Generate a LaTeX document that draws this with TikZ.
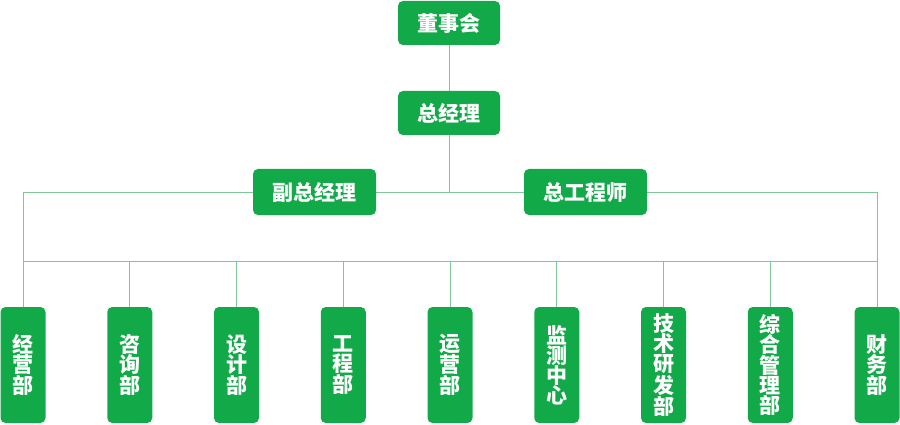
\documentclass[tikz,border=0pt]{standalone}
\usepackage{fontspec}
\newfontfamily\cjk{Noto Sans CJK SC}
\usetikzlibrary{positioning}
\definecolor{boxgreen}{RGB}{18,169,72}
\definecolor{linkgreen}{RGB}{125,200,152}

\begin{document}
\begin{tikzpicture}[x=1pt,y=-1pt,
  headbox/.style={
    rectangle,
    rounded corners=5pt,
    fill=boxgreen,
    text=white,
    font=\cjk\bfseries\fontsize{21}{21}\selectfont,
    inner sep=0pt},
  deptbox/.style={
    rectangle,
    rounded corners=5pt,
    fill=boxgreen,
    text=white,
    align=center,
    font=\cjk\bfseries\fontsize{21}{20}\selectfont,
    minimum width=45pt,
    minimum height=116pt,
    inner sep=0pt},
  link/.style={draw=linkgreen, line width=0.9pt}]
  \useasboundingbox (0,0) rectangle (900,425);
  % draw board and general manager
  \node[headbox, minimum width=102pt, minimum height=44pt] (board) at (449,23) {董事会};
  \node[headbox, minimum width=102pt, minimum height=44pt] (gm) at (449,113) {总经理};
  \draw[link] (board.south) -- (gm.north);
  % corners of the frame
  \coordinate (tl) at (23,192);
  \coordinate (tr) at (877,192);
  \coordinate (bl) at (23,261);
  \coordinate (br) at (877,261);
  \draw[link] (gm.south) -- (gm.south |- tl);
  \draw[link] (tl) -- (tr);
  \draw[link] (tl) -- (bl);
  \draw[link] (tr) -- (br);
  \draw[link] (bl) -- (br);
  % draw deputies on top of the frame
  \node[headbox, minimum width=123pt, minimum height=46pt] (deputy) at (314.5,192) {副总经理};
  \node[headbox, minimum width=123pt, minimum height=46pt] (chief) at (585.5,192) {总工程师};
  % draw departments
  \foreach \dept [count=\i from 0] in {{经\\营\\部},{咨\\询\\部},{设\\计\\部},{工\\程\\部},{运\\营\\部},
      {监\\测\\中\\心},{技\\术\\研\\发\\部},{综\\合\\管\\理\\部},{财\\务\\部}} {
    \node[deptbox] (d\i) at (23+106.75*\i, 365) {\dept};
    \draw[link] (d\i.north) -- (d\i.north |- bl);
  }
\end{tikzpicture}
\end{document}
